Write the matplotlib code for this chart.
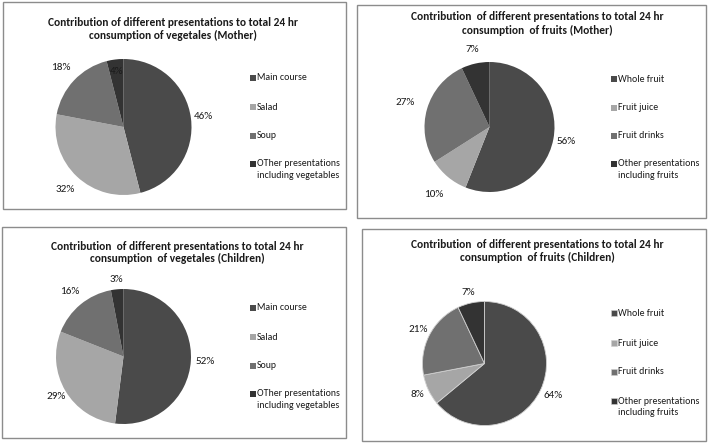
import matplotlib
matplotlib.use("Agg")
import matplotlib.pyplot as plt
from matplotlib.patches import Rectangle

W, H = 709, 447

veg_categories = ["Main course", "Salad", "Soup", "OTher presentations\nincluding vegetables"]
fruit_categories = ["Whole fruit", "Fruit juice", "Fruit drinks", "Other presentations\nincluding fruits"]

veg_mother = [46, 32, 18, 4]
fruit_mother = [56, 10, 27, 7]
veg_children = [52, 29, 16, 3]
fruit_children = [64, 8, 21, 7]

titles = [
    "Contribution of different presentations to total 24 hr\nconsumption of vegetales (Mother)",
    "Contribution  of different presentations to total 24 hr\nconsumption  of fruits (Mother)",
    "Contribution  of different presentations to total 24 hr\nconsumption  of vegetales (Children)",
    "Contribution  of different presentations to total 24 hr\nconsumption  of fruits (Children)",
]

colors = ["#4a4a4a", "#a6a6a6", "#707070", "#333333"]

plt.rcParams['font.family'] = ['Carlito', 'Lato', 'DejaVu Sans']

fig = plt.figure(figsize=(W / 100, H / 100), dpi=100)
fig.patch.set_facecolor("white")


def fx(x):
    return x / W


def fy(y):
    return 1 - y / H


panels = [
    dict(values=veg_mother, cats=veg_categories, title=titles[0],
         box=(3, 2, 346, 209), title_x=173, title_y=[23, 35], center=(123.5, 127), r=68,
         leg_x=253, leg_y=[78, 107, 136, 164], ldist=[1.18, 1.26, 1.27, 0.83], edge=None),
    dict(values=fruit_mother, cats=fruit_categories, title=titles[1],
         box=(357, 5, 706, 218), title_x=537, title_y=[17, 30], center=(489.5, 127), r=65,
         leg_x=614, leg_y=[79, 108, 136, 164], ldist=[1.2, 1.35, 1.35, 1.22], edge=None),
    dict(values=veg_children, cats=veg_categories, title=titles[2],
         box=(2, 227, 346, 438), title_x=177, title_y=[246, 258], center=(123.5, 356.5), r=67.5,
         leg_x=253, leg_y=[308, 337, 366, 394], ldist=[1.21, 1.16, 1.25, 1.15], edge=None),
    dict(values=fruit_children, cats=fruit_categories, title=titles[3],
         box=(362, 229, 706, 441), title_x=537, title_y=[244, 257], center=(484.5, 363.5), r=62,
         leg_x=614, leg_y=[313, 343, 372, 401], ldist=[1.23, 1.19, 1.2, 1.18], edge="#d0d0d0"),
]

for p in panels:
    x0, y0, x1, y1 = p["box"]
    fig.patches.append(Rectangle((fx(x0), fy(y1)), fx(x1 - x0), (y1 - y0) / H,
                                 transform=fig.transFigure, fill=False,
                                 edgecolor="#8c8c8c", linewidth=1.0))
    for line, ty in zip(p["title"].split("\n"), p["title_y"]):
        fig.text(fx(p["title_x"]), fy(ty), line, ha="center", va="center",
                 fontsize=8.2, fontweight="bold", color="#1a1a1a")
    cx, cy = p["center"]
    r = p["r"]
    ax = fig.add_axes([fx(cx - r), fy(cy + r), 2 * r / W, 2 * r / H])
    wedgeprops = dict(linewidth=0.6, edgecolor=p["edge"]) if p["edge"] else dict(linewidth=0)
    wedges, texts, autotexts = ax.pie(p["values"], colors=colors, startangle=90, counterclock=False,
                                      autopct=lambda v: f"{v:.0f}%", pctdistance=1.2,
                                      wedgeprops=wedgeprops,
                                      textprops=dict(fontsize=8, color="#1a1a1a"))
    ax.set_xlim(-1, 1)
    ax.set_ylim(-1, 1)
    for at, d in zip(autotexts, p["ldist"]):
        x, y = at.get_position()
        scale = d / 1.2
        at.set_position((x * scale, y * scale))
    for i, (cat, col) in enumerate(zip(p["cats"], colors)):
        ly = p["leg_y"][i]
        fig.patches.append(Rectangle((fx(p["leg_x"] - 3), fy(ly + 3)), 6 / W, 6 / H,
                                     transform=fig.transFigure, facecolor=col,
                                     edgecolor=p["edge"] if p["edge"] else "none", linewidth=0.4))
        for k, line in enumerate(cat.split("\n")):
            fig.text(fx(p["leg_x"] + 4), fy(ly + 11.5 * k), line, ha="left", va="center",
                     fontsize=7.1, color="#1a1a1a")

fig.savefig("out.png", dpi=100, facecolor="white")
